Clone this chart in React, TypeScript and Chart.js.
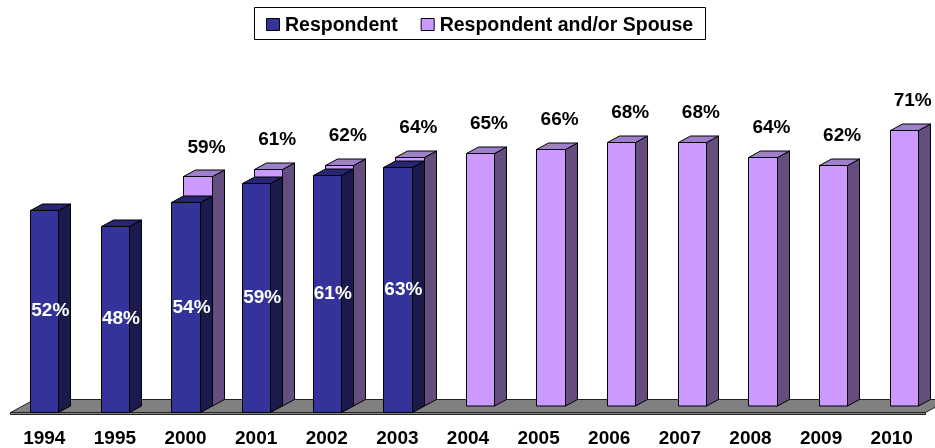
import { useEffect, useRef } from "react";
import { Chart, registerables } from "chart.js";

Chart.register(...registerables);

const categories = ["1994", "1995", "2000", "2001", "2002", "2003", "2004", "2005", "2006", "2007", "2008", "2009", "2010"];
const respondent = [52, 48, 54, 59, 61, 63, null, null, null, null, null, null, null];
const respondentOrSpouse = [null, null, 59, 61, 62, 64, 65, 66, 68, 68, 64, 62, 71];
const seriesLabels = ["Respondent", "Respondent and/or Spouse"];

const FONT = '"Liberation Sans", Arial, Helvetica, sans-serif';
const DX = 12;
const DY = -6.5;

const PALETTE = [
  { front: "#333399", top: "#262673", side: "#1a1a4d" },
  { front: "#cc99ff", top: "#9d7fcc", side: "#664d80" },
];

function box3d(ctx: CanvasRenderingContext2D, x0: number, x1: number, top: number, bottom: number, c: { front: string; top: string; side: string }) {
  ctx.lineWidth = 1;
  ctx.strokeStyle = "#000";
  ctx.lineJoin = "miter";
  // side face
  ctx.beginPath();
  ctx.moveTo(x1, top);
  ctx.lineTo(x1 + DX, top + DY);
  ctx.lineTo(x1 + DX, bottom + DY);
  ctx.lineTo(x1, bottom);
  ctx.closePath();
  ctx.fillStyle = c.side;
  ctx.fill();
  ctx.stroke();
  // top face
  ctx.beginPath();
  ctx.moveTo(x0, top);
  ctx.lineTo(x0 + DX, top + DY);
  ctx.lineTo(x1 + DX, top + DY);
  ctx.lineTo(x1, top);
  ctx.closePath();
  ctx.fillStyle = c.top;
  ctx.fill();
  ctx.stroke();
  // front face
  ctx.beginPath();
  ctx.rect(x0, top, x1 - x0, bottom - top);
  ctx.fillStyle = c.front;
  ctx.fill();
  ctx.stroke();
}

const bars3dPlugin = {
  id: "bars3d",
  beforeDatasetsDraw(chart: any) {
    const ctx: CanvasRenderingContext2D = chart.ctx;
    const area = chart.chartArea;
    const yScale = chart.scales.y;
    const base = Math.round(yScale.getPixelForValue(0)) + 0.5;
    ctx.save();

    // floor
    const fl = Math.round(area.left) + 1.5;
    const fr = Math.round(area.right) - 1.5;
    ctx.lineWidth = 1;
    ctx.strokeStyle = "#222";
    ctx.fillStyle = "#808080";
    ctx.beginPath();
    ctx.moveTo(fl, base);
    ctx.lineTo(fr, base);
    ctx.lineTo(fr + 2 * DX, base + 2 * DY);
    ctx.lineTo(fl + 2 * DX, base + 2 * DY);
    ctx.closePath();
    ctx.fill();
    ctx.stroke();
    ctx.beginPath();
    ctx.rect(fl, base, fr - fl, 2);
    ctx.fillStyle = "#8a8a8a";
    ctx.fill();
    ctx.stroke();

    const metaBack = chart.getDatasetMeta(1);
    const metaFront = chart.getDatasetMeta(0);
    const dataBack = chart.data.datasets[1].data;
    const dataFront = chart.data.datasets[0].data;

    // back row
    metaBack.data.forEach((el: any, i: number) => {
      if (dataBack[i] == null) return;
      const x0 = Math.round(el.x - el.width / 2) + 0.5 + DX;
      const x1 = Math.round(el.x + el.width / 2) + 0.5 + DX;
      const top = Math.round(el.y + DY) + 0.5;
      const bottom = base + DY;
      box3d(ctx, x0, x1, top, bottom, PALETTE[1]);
    });
    // front row
    metaFront.data.forEach((el: any, i: number) => {
      if (dataFront[i] == null) return;
      const x0 = Math.round(el.x - el.width / 2) + 0.5;
      const x1 = Math.round(el.x + el.width / 2) + 0.5;
      const top = Math.round(el.y) + 0.5;
      box3d(ctx, x0, x1, top, base, PALETTE[0]);
    });

    // labels
    ctx.font = `bold 19px ${FONT}`;
    ctx.textAlign = "center";
    ctx.textBaseline = "middle";
    metaBack.data.forEach((el: any, i: number) => {
      const v = dataBack[i];
      if (v == null) return;
      ctx.fillStyle = "#000";
      ctx.fillText(`${v}%`, el.x + DX + 9, el.y + DY - 29);
    });
    metaFront.data.forEach((el: any, i: number) => {
      const v = dataFront[i];
      if (v == null) return;
      ctx.fillStyle = "#fff";
      ctx.fillText(`${v}%`, el.x + 6, (el.y + base) / 2);
    });

    ctx.restore();
    return false;
  },
  afterDraw(chart: any) {
    const ctx: CanvasRenderingContext2D = chart.ctx;
    const area = chart.chartArea;
    ctx.save();
    ctx.font = `bold 19.5px ${FONT}`;
    const items = chart.data.datasets.map((ds: any, i: number) => ({ text: ds.label as string, color: PALETTE[i].front }));
    const box = 13;
    const gap = 6;
    const itemGap = 23;
    const padX = 12;
    const widths = items.map((it: any) => ctx.measureText(it.text).width);
    const contentW = widths.reduce((s: number, w: number) => s + box + gap + w, 0) + itemGap * (items.length - 1);
    const cx = (area.left + area.right) / 2 + DX;
    let x = Math.round(cx - contentW / 2);
    ctx.lineWidth = 1;
    ctx.strokeStyle = "#000";
    ctx.fillStyle = "#fff";
    ctx.beginPath();
    ctx.rect(x - padX + 0.5, 7.5, Math.round(contentW + 2 * padX), 32);
    ctx.fill();
    ctx.stroke();
    ctx.textAlign = "left";
    ctx.textBaseline = "alphabetic";
    items.forEach((it: any, i: number) => {
      ctx.beginPath();
      ctx.rect(x + 0.5, 18.5, box, box - 1);
      ctx.fillStyle = it.color;
      ctx.fill();
      ctx.strokeStyle = "#000";
      ctx.stroke();
      ctx.fillStyle = "#000";
      ctx.fillText(it.text, x + box + gap, 31);
      x += box + gap + widths[i] + itemGap;
    });
    ctx.restore();
  },
};

export default function App() {
  const ref = useRef<HTMLCanvasElement | null>(null);
  useEffect(() => {
    if (!ref.current) return;
    const chart = new Chart(ref.current, {
      type: "bar",
      data: {
        labels: categories,
        datasets: [
          { label: seriesLabels[0], data: respondent, backgroundColor: PALETTE[0].front, borderColor: "#000", borderWidth: 1 },
          { label: seriesLabels[1], data: respondentOrSpouse, backgroundColor: PALETTE[1].front, borderColor: "#000", borderWidth: 1 },
        ],
      },
      options: {
        responsive: true,
        maintainAspectRatio: false,
        animation: false,
        layout: { padding: { top: 24, left: 9, right: 8, bottom: 0 } },
        datasets: { bar: { grouped: false, barPercentage: 0.4, categoryPercentage: 1.0 } },
        plugins: {
          legend: { display: false },
          tooltip: { enabled: false },
        },
        scales: {
          x: {
            grid: { display: false, drawTicks: false },
            border: { display: false },
            afterFit: (scale: any) => {
              scale.height = 36.5;
            },
            ticks: {
              color: "#000",
              font: { family: FONT, size: 19, weight: "bold" },
              padding: 16,
              maxRotation: 0,
              autoSkip: false,
            },
          },
          y: { display: false, min: 0, max: 100 },
        },
      },
      plugins: [bars3dPlugin],
    });
    return () => chart.destroy();
  }, []);
  return (
    <div style={{ position: "fixed", left: 0, top: 0, width: 935, height: 448, background: "#fff" }}>
      <canvas ref={ref} />
    </div>
  );
}
